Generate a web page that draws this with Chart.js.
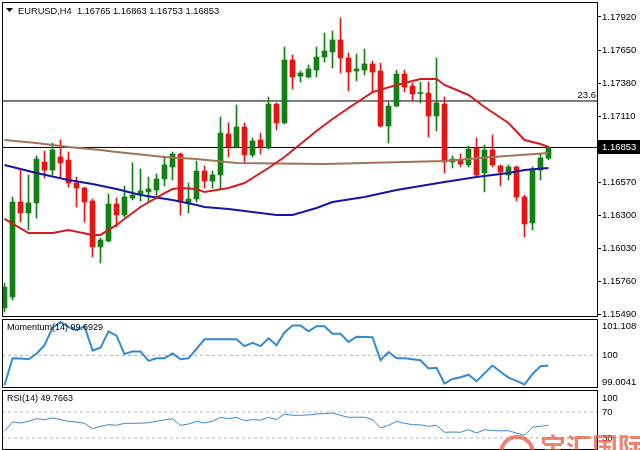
<!DOCTYPE html>
<html>
<head>
<meta charset="utf-8">
<script src="https://cdn.jsdelivr.net/npm/chart.js@4.4.1/dist/chart.umd.min.js"></script>
<style>
html, body { margin: 0; padding: 0; background: #fff; width: 640px; height: 450px; overflow: hidden; }
canvas { position: absolute; left: 0; }
</style>
</head>
<body>
<canvas id="price" width="640" height="318" style="top:0"></canvas>
<canvas id="mom" width="640" height="71" style="top:318px"></canvas>
<canvas id="rsi" width="640" height="61" style="top:389px"></canvas>
<script>
// EURUSD H4 candles
const opens  = [1.15540,1.15630,1.16407,1.16317,1.16399,1.16734,1.16668,1.16775,1.16750,1.16562,1.16521,1.16415,1.16039,1.16088,1.16390,1.16300,1.16439,1.16472,1.16489,1.16505,1.16595,1.16693,1.16799,1.16399,1.16431,1.16660,1.16578,1.16628,1.16963,1.16857,1.17020,1.16791,1.16914,1.16848,1.17208,1.17053,1.17568,1.17437,1.17429,1.17486,1.17593,1.17634,1.17732,1.17585,1.17478,1.17486,1.17536,1.17478,1.17028,1.17192,1.17454,1.17356,1.17294,1.17298,1.17110,1.17208,1.16734,1.16750,1.16710,1.16848,1.16644,1.16832,1.16701,1.16628,1.16693,1.16448,1.16235,1.16668,1.16765];
const highs  = [1.15744,1.16447,1.16668,1.16628,1.16783,1.16824,1.16889,1.16914,1.16816,1.16611,1.16529,1.16431,1.16112,1.16472,1.16439,1.16538,1.16726,1.16677,1.16611,1.16636,1.16775,1.16816,1.16808,1.16562,1.16742,1.16701,1.16660,1.17102,1.17053,1.17200,1.17053,1.16930,1.16971,1.17266,1.17217,1.17675,1.17609,1.17478,1.17527,1.17675,1.17789,1.17805,1.17912,1.17626,1.17617,1.17658,1.17560,1.17544,1.17225,1.17486,1.17486,1.17380,1.17388,1.17388,1.17585,1.17266,1.16783,1.16799,1.16865,1.16930,1.16873,1.16955,1.16710,1.16710,1.16701,1.16464,1.16693,1.16799,1.16863];
const lows   = [1.15507,1.15605,1.16243,1.16178,1.16276,1.16603,1.16628,1.16611,1.16529,1.16366,1.16243,1.15957,1.15908,1.16080,1.16202,1.16284,1.16423,1.16415,1.16407,1.16448,1.16538,1.16587,1.16300,1.16317,1.16407,1.16521,1.16521,1.16505,1.16775,1.16848,1.16726,1.16775,1.16799,1.16840,1.16996,1.17045,1.17331,1.17388,1.17421,1.17429,1.17552,1.17503,1.17462,1.17315,1.17396,1.17446,1.17307,1.17020,1.16889,1.17184,1.17307,1.17233,1.17217,1.16938,1.16987,1.16644,1.16685,1.16693,1.16693,1.16620,1.16489,1.16693,1.16538,1.16587,1.16415,1.16120,1.16178,1.16587,1.16753];
const closes = [1.15711,1.16407,1.16317,1.16399,1.16758,1.16668,1.16832,1.16726,1.16562,1.16521,1.16407,1.16039,1.16096,1.16390,1.16300,1.16448,1.16464,1.16497,1.16513,1.16595,1.16710,1.16799,1.16407,1.16431,1.16660,1.16578,1.16628,1.16971,1.16857,1.17020,1.16791,1.16906,1.16857,1.17208,1.17053,1.17568,1.17429,1.17462,1.17495,1.17593,1.17642,1.17732,1.17585,1.17470,1.17495,1.17536,1.17470,1.17028,1.17192,1.17454,1.17347,1.17290,1.17298,1.17110,1.17217,1.16734,1.16758,1.16717,1.16840,1.16628,1.16832,1.16710,1.16652,1.16693,1.16448,1.16227,1.16677,1.16767,1.16853];

// moving averages (bar index, value)
const redMaIdx = [0,3,6,8,11,12,14,16,17,20,21,22,24,25,28,30,33,35,39,41,43,46,49,52,54,55,58,60,63,65,67,68];
const redMaVal = [1.16268,1.16153,1.16153,1.16178,1.16137,1.16137,1.16219,1.16317,1.16366,1.16480,1.16513,1.16521,1.16513,1.16488,1.16521,1.16562,1.16685,1.16775,1.16987,1.17086,1.17176,1.17306,1.17364,1.17413,1.17413,1.17364,1.17282,1.17184,1.17053,1.16914,1.16881,1.16857];
const blueMaIdx = [0,4,8,11,14,17,21,24,25,28,31,34,36,39,41,45,49,55,59,63,65,68];
const blueMaVal = [1.16709,1.16644,1.16587,1.16554,1.16513,1.16464,1.16423,1.16382,1.16366,1.16349,1.16325,1.16300,1.16300,1.16358,1.16407,1.16448,1.16505,1.16570,1.16611,1.16644,1.16668,1.16685];
const brownMaIdx = [0,4,8,12,14,20,24,29,40,55,61,68];
const brownMaVal = [1.16914,1.16889,1.16857,1.16832,1.16816,1.16775,1.16758,1.16726,1.16718,1.16742,1.16775,1.16808];

const fibLevel = 1.17233;
const lastPrice = 1.16853;
const priceTicks = [1.17920,1.17650,1.17380,1.17110,1.16570,1.16300,1.16030,1.15760,1.15490];

const momVals = [99.09,99.91,99.90,99.88,100.05,100.31,100.84,101.02,100.87,100.76,100.89,100.15,100.23,100.73,100.60,100.04,100.12,100.12,99.83,99.91,99.91,100.06,99.88,99.91,100.20,100.49,100.49,100.49,100.49,100.49,100.28,100.38,100.28,100.52,100.31,100.70,100.91,100.91,100.73,100.89,100.89,100.66,100.66,100.41,100.57,100.56,100.55,99.85,100.10,99.91,99.91,99.88,99.85,99.60,99.62,99.14,99.28,99.33,99.41,99.21,99.45,99.69,99.50,99.32,99.22,99.11,99.43,99.67,99.69];
const momTicks = [101.108, 100, 99.0041];

const rsiVals = [40.3,54.6,53.1,55.7,59.7,58.2,60.8,58.2,55.5,54.6,52.6,44.3,48.0,50.5,49.5,52.6,52.6,52.8,53.5,55.7,57.7,59.7,49.5,51.5,55.7,53.1,55.7,61.8,59.7,61.8,56.6,58.2,57.5,61.8,58.2,66.9,64.9,64.9,65.5,66.9,67.5,68.5,64.9,61.8,62.0,62.0,58.2,45.4,49.5,55.7,52.6,50.5,50.3,48.0,49.5,38.8,39.2,38.8,42.8,37.7,42.8,41.5,41.0,41.2,37.5,34.2,46.5,48.0,49.77];
const rsiTicks = [100, 70, 30];

const GREEN = '#128012', RED = '#e81414';
const X_MIN = -0.3125, X_MAX = 74.0625;
const FONT = '"Liberation Sans", Arial, sans-serif';

const idx = closes.map((_, i) => i);
const candleColors = idx.map(i => closes[i] >= opens[i] ? GREEN : RED);
const pts = (xs, ys) => xs.map((x, k) => ({ x, y: ys[k] }));
const hline = (v, color, dash) => ({
    type: 'line', data: [{ x: X_MIN, y: v }, { x: X_MAX, y: v }],
    borderColor: color, borderWidth: 1, borderDash: dash || [], pointRadius: 0, order: 5
});
const maLine = (xs, ys, color) => ({
    type: 'line', data: pts(xs, ys), borderColor: color, borderWidth: 2, pointRadius: 0, tension: 0, order: 0
});
const xScale = { type: 'linear', min: X_MIN, max: X_MAX, offset: false, display: false };
const base = {
    responsive: false, animation: false, events: [],
    plugins: { legend: { display: false }, tooltip: { enabled: false } }
};

const frame = {
    id: 'frame',
    afterDraw(chart) {
        const { ctx, chartArea: a } = chart;
        ctx.save();
        ctx.strokeStyle = '#000';
        ctx.lineWidth = 1;
        ctx.strokeRect(a.left + 0.5, a.top + 0.5, a.right - a.left, a.bottom - a.top - 1);
        ctx.restore();
    }
};

const priceText = {
    id: 'priceText',
    afterDraw(chart) {
        const { ctx } = chart;
        const y = chart.scales.y;
        ctx.save();
        ctx.fillStyle = '#000';
        ctx.beginPath();
        ctx.moveTo(6, 8); ctx.lineTo(13, 8); ctx.lineTo(9.5, 12); ctx.closePath();
        ctx.fill();
        ctx.font = '9.3px ' + FONT;
        ctx.textBaseline = 'middle';
        ctx.fillText('EURUSD,H4  1.16765 1.16863 1.16753 1.16853', 18, 11);
        ctx.textAlign = 'right';
        ctx.textBaseline = 'bottom';
        ctx.font = '9.5px ' + FONT;
        ctx.fillText('23.6', 596, y.getPixelForValue(fibLevel) - 1);
        const py = Math.round(y.getPixelForValue(lastPrice));
        ctx.fillRect(598, py - 7, 42, 14);
        ctx.fillStyle = '#fff';
        ctx.textAlign = 'left';
        ctx.textBaseline = 'middle';
        ctx.fillText(lastPrice.toFixed(5), 602, py);
        ctx.restore();
    }
};

function sideLabels(title, ticks, fmt, offsets) {
    return {
        id: 'sideLabels',
        afterDraw(chart) {
            const { ctx } = chart;
            const y = chart.scales.y;
            ctx.save();
            ctx.fillStyle = '#000';
            ctx.font = '9px ' + FONT;
            ctx.textBaseline = 'middle';
            ctx.fillText(title, 7, chart.chartArea.top + 9);
            ctx.font = '9.5px ' + FONT;
            ticks.forEach((t, k) => ctx.fillText(fmt(t), 602, y.getPixelForValue(t) + offsets[k]));
            ctx.restore();
        }
    };
}

new Chart(document.getElementById('price'), {
    type: 'bar',
    data: {
        datasets: [
            maLine(redMaIdx, redMaVal, '#d21c22'),
            maLine(blueMaIdx, blueMaVal, '#1515a8'),
            maLine(brownMaIdx, brownMaVal, '#a27358'),
            { type: 'bar', data: idx.map(i => ({ x: i, y: [opens[i], closes[i]] })), backgroundColor: candleColors,
              borderWidth: 0, barThickness: 5, minBarLength: 1, grouped: false, order: 2 },
            { type: 'bar', data: idx.map(i => ({ x: i, y: [lows[i], highs[i]] })), backgroundColor: candleColors,
              borderWidth: 0, barThickness: 1, grouped: false, order: 3 },
            hline(fibLevel, '#000'),
            hline(lastPrice, '#000')
        ]
    },
    options: {
        ...base,
        layout: { padding: { left: 2, top: 2, right: 0, bottom: 1 } },
        scales: {
            x: xScale,
            y: {
                position: 'right', min: 1.15466, max: 1.180427,
                afterBuildTicks: s => { s.ticks = priceTicks.map(v => ({ value: v })); },
                afterFit: s => { s.width = 43; s.paddingTop = 0; s.paddingBottom = 0; },
                border: { display: false },
                grid: { drawOnChartArea: false, drawTicks: true, tickLength: 4, color: '#000' },
                ticks: { autoSkip: false, color: '#000', padding: 1, font: { family: FONT, size: 9.5 }, callback: v => v.toFixed(5) }
            }
        }
    },
    plugins: [frame, priceText]
});

new Chart(document.getElementById('mom'), {
    type: 'line',
    data: {
        datasets: [
            { data: pts(idx, momVals), borderColor: '#3588d2', borderWidth: 2, pointRadius: 0, tension: 0, order: 0 },
            hline(100, '#b4b4b4', [3, 3])
        ]
    },
    options: {
        ...base,
        layout: { padding: { left: 2, top: 1, right: 43, bottom: 1 } },
        scales: { x: xScale, y: { display: false, min: 99.0041, max: 101.108 } }
    },
    plugins: [frame, sideLabels('Momentum(14) 99.6929', momTicks, v => String(v), [7, 0, -6])]
});

const watermark = {
    id: 'watermark',
    afterDraw(chart) {
        const { ctx } = chart;
        ctx.save();
        ctx.strokeStyle = 'rgba(230,90,64,0.75)';
        ctx.lineWidth = 4;
        ctx.beginPath();
        ctx.arc(517, 64, 16, 0, Math.PI * 2);
        ctx.stroke();
        ctx.fillStyle = 'rgba(230,90,64,0.75)';
        ctx.font = 'bold 26px "Noto Sans CJK SC"';
        ctx.textBaseline = 'alphabetic';
        ctx.fillText('宝汇国际', 540, 68);
        ctx.restore();
    }
};

new Chart(document.getElementById('rsi'), {
    type: 'line',
    data: {
        datasets: [
            { data: pts(idx, rsiVals), borderColor: '#3588d2', borderWidth: 1, pointRadius: 0, tension: 0, order: 0 },
            hline(70, '#b4b4b4', [3, 3]),
            hline(30, '#b4b4b4', [3, 3])
        ]
    },
    options: {
        ...base,
        layout: { padding: { left: 2, top: 1, right: 43, bottom: 0 } },
        scales: { x: xScale, y: { display: false, min: 11.54, max: 103.85 } }
    },
    plugins: [frame, sideLabels('RSI(14) 49.7663', rsiTicks, v => String(v), [6, 0, 0]), watermark]
});
</script>
</body>
</html>
